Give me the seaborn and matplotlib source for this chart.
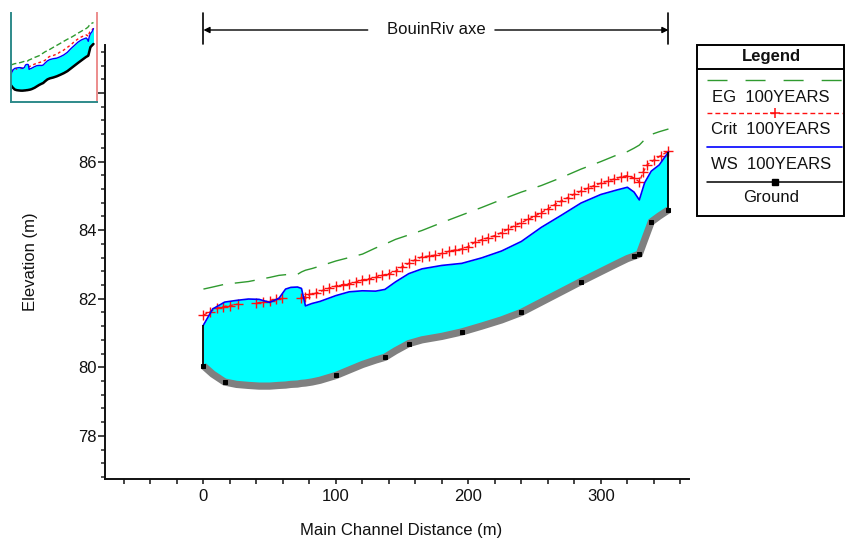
import matplotlib
matplotlib.use("Agg")
import matplotlib.pyplot as plt
import matplotlib.transforms as mtransforms
from matplotlib.lines import Line2D
from matplotlib.patches import Rectangle
from matplotlib.ticker import MultipleLocator
import numpy as np
import pandas as pd
import seaborn as sns

# Main channel stations (m) and the profile elevations (m) at each one
station = [0, 7, 16, 25, 34, 42, 50, 57, 62, 66, 71, 74, 77, 82, 88, 100, 110, 120, 130, 137,
           145, 155, 165, 180, 195, 210, 225, 240, 255, 270, 285, 300, 312, 320, 325, 329, 333, 338, 344, 351]
ground = [80.04, 79.80, 79.57, 79.50, 79.47, 79.45, 79.45, 79.47, 79.48, 79.50, 79.51, 79.53, 79.54, 79.57,
          79.62, 79.76, 79.92, 80.08, 80.21, 80.29, 80.48, 80.69, 80.80, 80.90, 81.03, 81.20, 81.38, 81.60,
          81.90, 82.20, 82.50, 82.79, 83.02, 83.17, 83.24, 83.30, 83.72, 84.24, 84.41, 84.59]
ws = [81.23, 81.70, 81.90, 81.95, 81.99, 81.98, 81.89, 82.01, 82.28, 82.33, 82.34, 82.30, 81.79, 81.86,
      81.92, 82.09, 82.20, 82.23, 82.22, 82.27, 82.49, 82.73, 82.87, 82.97, 83.03, 83.19, 83.39, 83.67,
      84.08, 84.43, 84.79, 85.04, 85.17, 85.25, 85.11, 84.88, 85.38, 85.72, 85.90, 86.28]
eg = [82.28, 82.34, 82.42, 82.46, 82.50, 82.56, 82.62, 82.68, 82.70, 82.71, 82.71, 82.78, 82.83, 82.88,
      82.95, 83.10, 83.20, 83.30, 83.48, 83.59, 83.73, 83.86, 83.99, 84.22, 84.44, 84.66, 84.89, 85.11,
      85.30, 85.53, 85.78, 86.00, 86.19, 86.29, 86.39, 86.48, 86.64, 86.79, 86.87, 86.95]

# Critical water surface at the denser interpolated sections (NaN: not computed)
nan = np.nan
crit_station = [0, 5, 10, 15, 20, 26, 33, 40, 45, 50, 55, 59, 66, 74, 77, 80, 85, 90, 95,
                100, 105, 110, 115, 120, 125, 130, 135, 140, 145, 150, 155, 160, 165, 170, 175, 180, 185,
                190, 195, 200, 205, 210, 215, 220, 225, 230, 235, 240, 245, 250, 255, 260, 265, 270, 275,
                280, 285, 290, 295, 300, 305, 310, 315, 320, 325, 329, 332, 335, 340, 345, 351]
crit = [81.52, 81.62, 81.72, 81.77, 81.80, 81.84, nan, 81.87, 81.90, 81.94, 81.99, 82.01, nan,
        82.02, 82.06, 82.13, 82.16, 82.24, 82.31, 82.37, 82.41, 82.44, 82.48, 82.55, 82.58, 82.62, 82.68,
        82.73, 82.80, 82.93, 83.03, 83.14, 83.22, 83.24, 83.27, 83.32, 83.38, 83.42, 83.45, 83.52, 83.65,
        83.72, 83.78, 83.84, 83.93, 84.03, 84.13, 84.22, 84.31, 84.41, 84.51, 84.62, 84.74, 84.85, 84.95,
        85.05, 85.14, 85.22, 85.30, 85.37, 85.43, 85.49, 85.55, 85.59, 85.52, 85.41, 85.70, 85.91, 86.04,
        86.17, 86.30]

# Cross sections that carry a ground marker
ground_marked = [0, 2, 15, 19, 21, 24, 27, 30, 34, 35, 37, 39]

reach_label = "BouinRiv axe"
legend_title = "Legend"
legend_labels = ["EG  100YEARS", "Crit  100YEARS", "WS  100YEARS", "Ground"]
x_label = "Main Channel Distance (m)"
y_label = "Elevation (m)"

EG_COLOR = "#2f9a2f"
CRIT_COLOR = "#ff1010"
WS_COLOR = "#0000ff"
WATER = "#00ffff"
GROUND_COLOR = "#808080"

sns.set_theme(style="ticks")
plt.rcParams["font.family"] = ["Liberation Sans", "DejaVu Sans"]
plt.rcParams["font.size"] = 12
plt.rcParams["text.color"] = "#111111"

df = pd.DataFrame({"station": station, "ground": ground, "ws": ws, "eg": eg})
df_crit = pd.DataFrame({"station": crit_station, "crit": crit})

W, H = 846, 541
fig = plt.figure(figsize=(W / 100, H / 100), dpi=100)


def fx(px):
    return px / W


def fy(py):
    return 1 - py / H


ax = fig.add_axes([fx(105), fy(479), fx(689) - fx(105), fy(45) - fy(479)])
ax.set_facecolor("white")

sns.lineplot(data=df, x="station", y="eg", ax=ax, color=EG_COLOR, lw=1.0,
             linestyle=(0, (14.5, 8.5)), sort=False, estimator=None, zorder=1)

ax.fill_between(df["station"], df["ground"], df["ws"], color=WATER, lw=0, zorder=2)

sns.lineplot(data=df, x="station", y="ground", ax=ax, color=GROUND_COLOR, lw=5.2,
             solid_capstyle="butt", solid_joinstyle="miter", marker="s", markersize=2.4,
             markerfacecolor="black", markeredgecolor="black", markevery=ground_marked,
             sort=False, estimator=None, zorder=3)
# Critical depth line with a cross at every computed section
ax.plot(df_crit["station"], df_crit["crit"], color=CRIT_COLOR, lw=1.0,
        linestyle=(0, (3, 2)), marker="+", markersize=7, markeredgewidth=1.0,
        markeredgecolor=CRIT_COLOR, zorder=3.5)
sns.lineplot(data=df, x="station", y="ws", ax=ax, color=WS_COLOR, lw=1.2,
             sort=False, estimator=None, zorder=4)
ax.vlines([station[0], station[-1]], [ground[0], ground[-1]], [ws[0], ws[-1]],
          color="black", lw=1.3, zorder=4)

ax.set_xlim(-74.3, 366.5)
ax.set_ylim(76.74, 89.4)
ax.xaxis.set_major_locator(MultipleLocator(100))
ax.xaxis.set_minor_locator(MultipleLocator(20))
ax.yaxis.set_major_locator(MultipleLocator(2))
ax.yaxis.set_minor_locator(MultipleLocator(0.4))
ax.tick_params(axis="x", which="both", direction="out", length=3.5, width=1.1, pad=4,
               labelsize=12, colors="#111111")
ax.tick_params(axis="y", which="major", direction="out", length=5, width=1.1, pad=1,
               labelsize=12, colors="#111111")
ax.tick_params(axis="y", which="minor", direction="out", length=3, width=1.1)
for side in ("top", "right"):
    ax.spines[side].set_visible(False)
for side in ("left", "bottom"):
    ax.spines[side].set_color("#111111")
    ax.spines[side].set_linewidth(1.4)
ax.set_xlabel("")
ax.set_ylabel("")
ax.grid(False)

fig.text(fx(401), fy(530), x_label, ha="center", va="center", fontsize=12)
fig.text(fx(30), fy(262), y_label, ha="center", va="center", rotation=90, fontsize=12)

# Reach span arrow above the plot
tr = mtransforms.blended_transform_factory(ax.transData, fig.transFigure)
arrow_kw = dict(arrowstyle="-|>", color="black", lw=1.0, mutation_scale=9, shrinkA=0, shrinkB=0)
ax.annotate("", xy=(station[0], fy(30)), xytext=(124, fy(30)), xycoords=tr, textcoords=tr,
            arrowprops=arrow_kw, annotation_clip=False)
ax.annotate("", xy=(station[-1], fy(30)), xytext=(220, fy(30)), xycoords=tr, textcoords=tr,
            arrowprops=arrow_kw, annotation_clip=False)
for xs in (station[0], station[-1]):
    ax.plot([xs, xs], [fy(13), fy(44)], color="black", lw=1.2, transform=tr, clip_on=False)
ax.text((station[0] + station[-1]) / 2, fy(30), reach_label, transform=tr,
        ha="center", va="center", fontsize=12)

# Legend panel
fig.add_artist(Rectangle((fx(697), fy(216)), fx(844) - fx(697), fy(45) - fy(216),
                         transform=fig.transFigure, fill=False, ec="black", lw=1.4))
fig.add_artist(Line2D([fx(697), fx(844)], [fy(69), fy(69)], transform=fig.transFigure,
                      color="black", lw=1.4))
fig.text(fx(771), fy(57), legend_title, ha="center", va="center", fontsize=12, fontweight="bold")
lx0, lx1, lxc = fx(707), fx(842), fx(775)
fig.add_artist(Line2D([lx0, lx1], [fy(80), fy(80)], transform=fig.transFigure,
                      color=EG_COLOR, lw=1.0, linestyle=(0, (14.4, 13.0))))
fig.add_artist(Line2D([lx0, lx1], [fy(113), fy(113)], transform=fig.transFigure,
                      color=CRIT_COLOR, lw=1.0, linestyle=(0, (3.5, 2.2))))
fig.add_artist(Line2D([lxc], [fy(113)], transform=fig.transFigure, color=CRIT_COLOR,
                      marker="+", markersize=7, markeredgewidth=1.1, lw=0))
fig.add_artist(Line2D([lx0, lx1], [fy(147), fy(147)], transform=fig.transFigure,
                      color=WS_COLOR, lw=1.2))
fig.add_artist(Line2D([lx0, lx1], [fy(182), fy(182)], transform=fig.transFigure,
                      color="black", lw=1.1))
fig.add_artist(Line2D([lxc], [fy(182)], transform=fig.transFigure, color="black",
                      marker="s", markersize=5, lw=0))
for label, ypx in zip(legend_labels, [97, 130, 164, 198]):
    fig.text(fx(771), fy(ypx), label, ha="center", va="center", fontsize=12)

# Overview thumbnail of the whole profile
mini = fig.add_axes([fx(11), fy(102), fx(97) - fx(11), fy(13) - fy(102)], zorder=5)
mini.set_facecolor("white")
mini.fill_between(station, ground, ws, color=WATER, lw=0)
mini.plot(station, eg, color=EG_COLOR, lw=1.0, linestyle=(0, (4, 2)))
mini.plot(crit_station, crit, color=CRIT_COLOR, lw=1.0, linestyle=(0, (2, 2)))
mini.plot(station, ws, color=WS_COLOR, lw=1.0)
mini.plot(station, ground, color="black", lw=1.8)
mini.set_xlim(0, 366)
mini.set_ylim(78.2, 88.0)
mini.set_xticks([])
mini.set_yticks([])
mini.spines["top"].set_visible(False)
for side in ("left", "bottom"):
    mini.spines[side].set_color("#2e8a8a")
    mini.spines[side].set_linewidth(1.4)
mini.spines["right"].set_color("#ec8c8c")
mini.spines["right"].set_linewidth(1.4)

fig.savefig("out.png", dpi=100, facecolor="white")
